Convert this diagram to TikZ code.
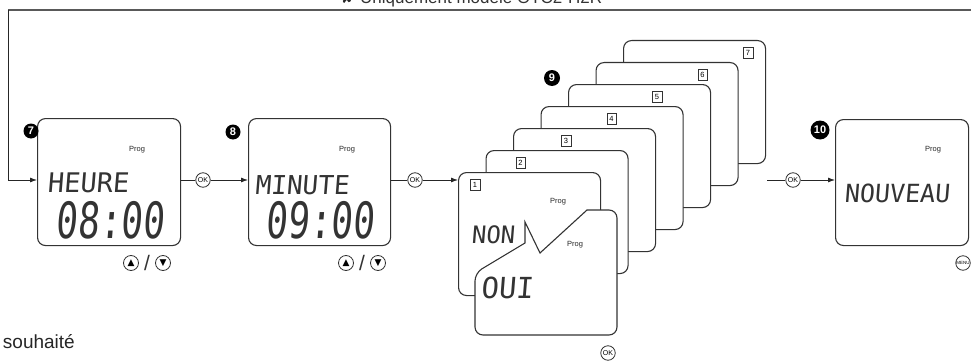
\documentclass[tikz,border=0pt]{standalone}
\usepackage{fontspec}
\setmainfont{Liberation Sans}
\newfontfamily\lcd[FakeSlant=0.08]{DejaVu Sans Mono}
\newfontfamily\lcdbig[FakeSlant=0.08,FakeStretch=0.72]{DejaVu Sans Mono}
\newfontfamily\symf{DejaVu Sans}
\usetikzlibrary{arrows.meta}
\begin{document}
\begin{tikzpicture}[x=1pt,y=-1pt,
  lcdbox/.style={draw=black!80, line width=1.1pt, rounded corners=8pt, fill=white, inner sep=0pt, anchor=north west},
  badge/.style={circle, fill=black, text=white, inner sep=0pt, minimum size=15pt, font=\bfseries\fontsize{11}{11}\selectfont},
  okbtn/.style={circle, draw=black!80, line width=0.8pt, fill=white, inner sep=0pt, minimum size=14.5pt, font=\fontsize{7}{7}\selectfont},
  arrowbtn/.style={okbtn, minimum size=15pt, font=\symf\fontsize{9}{9}\selectfont},
  slash/.style={inner sep=0pt, font=\fontsize{21}{21}\selectfont, text=black!80},
  numlbl/.style={draw=black!80, line width=0.5pt, inner sep=0pt, minimum width=9.5pt, minimum height=11pt, font=\fontsize{7.5}{7.5}\selectfont},
  prog/.style={font=\fontsize{7.5}{8}\selectfont, text=black!85},
  lcdtxt/.style={inner sep=0pt, text=black!80},
  conn/.style={draw=black!85, line width=0.8pt},
  arr/.style={conn, -{Latex[length=7pt,width=5pt]}},
]
\useasboundingbox (0,0) rectangle (971,361);

% top loop
\node[anchor=base west, inner sep=0pt, font=\fontsize{17}{17}\selectfont, text=black!80] (toptxt) at (360,4) {Uniquement modèle OTC2-H2R};
\node[anchor=base east, inner sep=0pt, font=\symf\fontsize{15}{15}\selectfont, text=black!85] (topicon) at (354,4) {✘};

% box 7
\node[lcdbox, minimum width=143pt, minimum height=127pt] (b7) at (37,118) {};
\node[badge] (g7) at (31,131) {7};
\node[prog] (p7) at (137,150) {Prog};
\node[lcdtxt, font=\lcd\fontsize{27}{27}\selectfont] (t7) at (88,183) {HEURE};
\node[lcdtxt, font=\lcdbig\fontsize{50}{50}\selectfont] (d7) at (110,220) {08:00};
\node[arrowbtn] (u7) at (131,263) {▲};
\node[slash] (s7) at (147,263) {/};
\node[arrowbtn] (d7b) at (163,263) {▼};

% box 8
\node[lcdbox, minimum width=142pt, minimum height=127pt] (b8) at (248,118) {};
\node[badge] (g8) at (233,132) {8};
\node[prog] (p8) at (347,150) {Prog};
\node[lcdtxt, font=\lcd\fontsize{26}{26}\selectfont] (t8) at (302,185) {MINUTE};
\node[lcdtxt, font=\lcdbig\fontsize{50}{50}\selectfont] (d8) at (320,220) {09:00};
\node[arrowbtn] (u8) at (346,263) {▲};
\node[slash] (s8) at (362,263) {/};
\node[arrowbtn] (d8b) at (378,263) {▼};

% stack 9
\foreach \k in {7,6,...,1}{
  \node[lcdbox, minimum width=142pt, minimum height=123pt] (s\k) at ({458+27.5*(\k-1)},{172-22*(\k-1)}) {};
  \node[numlbl] (n\k) at ({475+45.5*(\k-1)},{185-22*(\k-1)}) {\k};
}
\node[badge, minimum size=16pt] (g9) at (552,78) {9};
\node[prog] (p1) at (558,202) {Prog};
\node[lcdtxt, font=\lcd\fontsize{24}{24}\selectfont] (tnon) at (493,235) {NON};
\draw[draw=black!80, line width=1.1pt, fill=white]
  (475,273) -- (525,243) -- (525,222) -- (540,253) -- (587,210)
  [rounded corners=8pt] -- (617,210) -- (617,335) -- (475,335) -- cycle;
\node[prog] (poui) at (575,245) {Prog};
\node[lcdtxt, font=\lcd\fontsize{29}{29}\selectfont] (toui) at (507,288) {OUI};
\node[okbtn] (ok4) at (608,353) {OK};

% box 10
\node[lcdbox, minimum width=133pt, minimum height=126pt] (b10) at (835,119) {};
\node[badge, minimum size=19pt] (g10) at (820,130) {10};
\node[prog] (p10) at (933,150) {Prog};
\node[lcdtxt, font=\lcd\fontsize{25}{25}\selectfont] (t10) at (897,193) {NOUVEAU};
\node[okbtn, font=\fontsize{4.5}{5}\selectfont] (menu) at (963,263) {MENU};

% connectors
\node[okbtn] (ok1) at (203,180) {OK};
\node[okbtn] (ok2) at (415,180) {OK};
\node[okbtn] (ok3) at (793,180) {OK};
\coordinate (loopR) at (975,10);
\coordinate (loopL) at (8,10);
\coordinate (stackout) at (767,180);
\draw[draw=black!65, line width=1.6pt] (loopR) -- (loopL);
\draw[arr] (loopL) |- (b7.west |- ok1);
\draw[conn] (b7.east |- ok1) -- (ok1.west);
\draw[arr] (ok1.east) -- (b8.west |- ok1);
\draw[conn] (b8.east |- ok2) -- (ok2.west);
\draw[arr] (ok2.east) -- (s1.west |- ok2);
\draw[conn] (stackout) -- (ok3.west);
\draw[arr] (ok3.east) -- (b10.west |- ok3);

% bottom-left text
\node[anchor=base east, inner sep=0pt, font=\fontsize{19}{19}\selectfont, text=black!85] (souh) at (75,348) {souhaité};
\end{tikzpicture}
\end{document}
